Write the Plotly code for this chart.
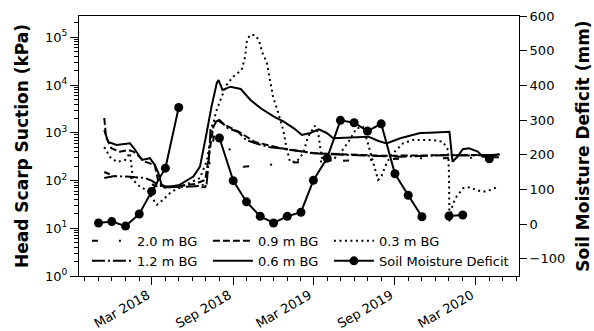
import plotly.graph_objects as go

# ---------------- data ----------------
# Suction at 2.0 m below ground (kPa)
d20_dates = ["2017-11-14", "2017-12-07", "2018-02-14", "2018-03-08", "2018-05-03", "2018-06-30",
             "2018-07-11", "2018-07-20", "2018-08-07", "2018-09-24", "2018-11-16", "2019-01-07",
             "2019-03-01", "2019-06-19", "2019-10-06", "2020-02-03", "2020-04-24"]
d20_vals = [151, 124, 103, 77, 70, 73, 269, 898, 706, 195, 211, 238, 248, 269, 292, 296, 309]

# Suction at 1.2 m below ground (kPa)
d12_dates = ["2017-11-14", "2017-12-07", "2018-01-11", "2018-02-14", "2018-03-02", "2018-03-19",
             "2018-05-03", "2018-06-18", "2018-07-03", "2018-07-08", "2018-07-12", "2018-07-21",
             "2018-08-01", "2018-08-20", "2018-09-12", "2018-09-30", "2018-10-27", "2018-11-23",
             "2018-12-16", "2019-03-01", "2019-05-16", "2019-07-31", "2019-09-13", "2020-01-02",
             "2020-02-15", "2020-04-24"]
d12_vals = [113, 124, 120, 113, 98, 77, 73, 77, 85, 269, 1265, 1680, 1850, 1240, 1054, 706, 580,
            497, 473, 372, 343, 327, 315, 343, 335, 343]

# Suction at 0.9 m below ground (kPa)
d09_dates = ["2017-11-14", "2017-11-18", "2017-11-30", "2017-12-19", "2018-01-07", "2018-01-19",
             "2018-02-14", "2018-03-08", "2018-03-16", "2018-03-31", "2018-05-03", "2018-06-07",
             "2018-06-30", "2018-07-11", "2018-07-18", "2018-07-27", "2018-08-14", "2018-09-18",
             "2018-10-20", "2018-12-16", "2019-03-01", "2019-07-31", "2020-01-02", "2020-04-24"]
d09_vals = [2040, 816, 473, 402, 436, 402, 248, 211, 94, 70, 77, 85, 103, 436, 1321, 1850, 1455,
            990, 640, 480, 375, 330, 345, 345]

# Suction at 0.6 m below ground (kPa)
d06_dates = ["2017-11-14", "2017-11-23", "2017-12-12", "2018-01-11", "2018-01-23", "2018-02-07",
             "2018-02-25", "2018-03-08", "2018-03-16", "2018-03-23", "2018-04-03", "2018-05-03",
             "2018-06-03", "2018-06-18", "2018-07-03", "2018-07-14", "2018-07-26", "2018-07-30",
             "2018-08-08", "2018-08-26", "2018-09-18", "2018-10-10", "2018-11-02", "2018-12-02",
             "2018-12-24", "2019-01-16", "2019-02-03", "2019-02-22", "2019-03-13", "2019-03-31",
             "2019-04-15", "2019-05-23", "2019-07-03", "2019-07-26", "2019-08-13", "2019-09-13",
             "2019-10-28", "2019-11-19", "2019-12-10", "2020-01-02", "2020-01-09", "2020-01-20",
             "2020-02-01", "2020-02-15", "2020-03-06", "2020-03-17", "2020-04-01", "2020-04-24"]
d06_vals = [1140, 640, 555, 600, 436, 269, 293, 211, 144, 83, 72, 81, 121, 195, 990, 3520, 11040,
            12740, 7870, 9230, 8260, 4860, 3260, 2170, 1710, 1240, 898, 990, 1183, 990, 766, 804,
            828, 673, 600, 766, 990, 1004, 1040, 1054, 248, 315, 451, 473, 402, 315, 315, 360]

# Suction at 0.3 m below ground (kPa)
d03_dates = ["2017-11-14", "2017-11-27", "2017-12-13", "2017-12-31", "2018-01-11", "2018-01-18",
             "2018-02-03", "2018-02-19", "2018-03-02", "2018-03-13", "2018-03-26", "2018-04-12",
             "2018-05-03", "2018-05-26", "2018-06-18", "2018-07-04", "2018-07-15", "2018-07-24",
             "2018-08-06", "2018-08-17", "2018-09-01", "2018-09-20", "2018-09-28", "2018-10-02",
             "2018-10-09", "2018-10-20", "2018-10-29", "2018-11-05", "2018-11-16", "2018-11-23",
             "2018-11-30", "2018-12-11", "2018-12-23", "2018-12-30", "2019-01-07", "2019-01-22",
             "2019-02-06", "2019-02-17", "2019-03-04", "2019-03-12", "2019-03-19", "2019-03-27",
             "2019-04-14", "2019-05-03", "2019-05-22", "2019-06-06", "2019-06-21", "2019-07-02",
             "2019-07-14", "2019-07-25", "2019-08-01", "2019-08-13", "2019-08-24", "2019-09-04",
             "2019-09-19", "2019-10-11", "2019-11-26", "2019-12-18", "2019-12-30", "2020-01-01",
             "2020-01-02", "2020-01-09", "2020-01-18", "2020-02-02", "2020-02-17", "2020-03-03",
             "2020-03-18", "2020-04-02", "2020-04-21"]
d03_vals = [504, 311, 244, 269, 377, 103, 73, 63, 43, 31, 39, 55, 73, 89, 113, 269, 1143, 2720,
            5700, 10000, 14960, 20650, 39240, 87800, 111700, 111700, 87800, 49900, 28960, 12740,
            5620, 2720, 1143, 511, 248, 248, 372, 828, 1400, 990, 315, 244, 269, 402, 706, 1240,
            1321, 600, 229, 103, 120, 229, 343, 436, 600, 706, 706, 648, 436, 141, 13.7, 31, 46,
            69, 72, 63, 58, 63, 74]

# Soil moisture deficit (mm), monthly; None = no data
smd_dates = ["2017-11-01", "2017-12-01", "2018-01-01", "2018-02-01", "2018-03-01", "2018-04-01",
             "2018-05-01", "2018-06-01", "2018-07-01", "2018-08-01", "2018-09-01", "2018-10-01",
             "2018-11-01", "2018-12-01", "2019-01-01", "2019-02-01", "2019-03-01", "2019-04-01",
             "2019-05-01", "2019-06-01", "2019-07-01", "2019-08-01", "2019-09-01", "2019-10-01",
             "2019-11-01", "2019-12-01", "2020-01-01", "2020-02-01", "2020-03-01", "2020-04-01"]
smd_vals = [3, 7, -6, 29, 94, 161, 336, None, None, 248, 125, 64, 22, 3, 22, 34, 126, 190, 299,
            292, 268, 289, 145, 83, 21, None, 23, 26, None, 188]

left_tick_vals = [1, 10, 100, 1000, 10000, 100000]
left_tick_text = ["10<sup>0</sup>", "10<sup>1</sup>", "10<sup>2</sup>", "10<sup>3</sup>",
                  "10<sup>4</sup>", "10<sup>5</sup>"]
right_tick_vals = [-100, 0, 100, 200, 300, 400, 500, 600]

# ---------------- figure ----------------
FONT = "DejaVu Sans"
BLACK = "#000000"
LW = 2

fig = go.Figure()

fig.add_trace(go.Scatter(x=d20_dates, y=d20_vals, mode="lines", name="2.0 m BG",
                         line=dict(color=BLACK, width=LW, dash="6px,21px,2px,21px"),
                         legend="legend"))
fig.add_trace(go.Scatter(x=d12_dates, y=d12_vals, mode="lines", name="1.2 m BG",
                         line=dict(color=BLACK, width=LW, dash="13px,3px,2px,3px"),
                         legend="legend2"))
fig.add_trace(go.Scatter(x=d09_dates, y=d09_vals, mode="lines", name="0.9 m BG",
                         line=dict(color=BLACK, width=LW, dash="7px,3px"),
                         legend="legend"))
fig.add_trace(go.Scatter(x=d06_dates, y=d06_vals, mode="lines", name="0.6 m BG",
                         line=dict(color=BLACK, width=LW), legend="legend2"))
fig.add_trace(go.Scatter(x=d03_dates, y=d03_vals, mode="lines", name="0.3 m BG",
                         line=dict(color=BLACK, width=LW, dash="2px,3.5px"),
                         legend="legend"))
fig.add_trace(go.Scatter(x=smd_dates, y=smd_vals, mode="lines+markers",
                         name="Soil Moisture Deficit", yaxis="y2",
                         line=dict(color=BLACK, width=LW),
                         marker=dict(color=BLACK, size=9, symbol="circle"),
                         legend="legend3"))

minor_log = [k * 10 ** n for n in range(0, 6) for k in range(2, 10)]

legend_common = dict(orientation="h", xanchor="left", yanchor="middle",
                     bgcolor="rgba(0,0,0,0)", borderwidth=0,
                     font=dict(family=FONT, size=13, color=BLACK),
                     entrywidth=66, entrywidthmode="pixels", itemwidth=40,
                     tracegroupgap=0)
legend3_opts = dict(orientation="h", xanchor="left", yanchor="middle",
                    bgcolor="rgba(0,0,0,0)", borderwidth=0,
                    font=dict(family=FONT, size=13, color=BLACK),
                    itemwidth=40, tracegroupgap=0)

LEG_X = 0.018
COL_STEP = 121 / 440

fig.update_layout(
    width=594, height=331,
    margin=dict(l=79, r=75, t=16, b=55, autoexpand=False),
    paper_bgcolor="white", plot_bgcolor="white",
    font=dict(family=FONT, size=13, color=BLACK),
    showlegend=True,
    legend=dict(x=LEG_X, y=0.135, **legend_common),
    legend2=dict(x=LEG_X, y=0.058, **legend_common),
    legend3=dict(x=LEG_X + 2 * COL_STEP, y=0.058, **legend3_opts),
    xaxis=dict(
        type="date", range=["2017-09-18", "2020-06-07"], automargin=False,
        tick0="2018-03-01", dtick="M6", tickformat="%b %Y", tickangle=-30,
        ticklabelshift=-4, ticklabelstandoff=-2,
        ticks="outside", ticklen=8, tickwidth=1, tickcolor=BLACK,
        minor=dict(dtick="M1", tick0="2017-10-01", ticks="outside", ticklen=4,
                   tickwidth=1, tickcolor=BLACK, showgrid=False),
        showgrid=False, zeroline=False,
        showline=True, linecolor=BLACK, linewidth=1, mirror=True,
        tickfont=dict(family=FONT, size=13, color=BLACK),
    ),
    yaxis=dict(
        type="log", range=[0, 5.446], automargin=False,
        tickvals=left_tick_vals, ticktext=left_tick_text,
        ticks="outside", ticklen=8, tickwidth=1, tickcolor=BLACK,
        minor=dict(tickvals=minor_log, ticks="outside", ticklen=4, tickwidth=1,
                   tickcolor=BLACK, showgrid=False),
        showgrid=False, zeroline=False,
        showline=True, linecolor=BLACK, linewidth=1, mirror=False,
        tickfont=dict(family=FONT, size=13, color=BLACK),
        title=dict(text="<b>Head Scarp Suction (kPa)</b>", standoff=12,
                   font=dict(family=FONT, size=17, color=BLACK)),
    ),
    yaxis2=dict(
        overlaying="y", side="right", range=[-150, 600], automargin=False,
        tickvals=right_tick_vals,
        ticks="outside", ticklen=7, tickwidth=1, tickcolor=BLACK,
        showgrid=False, zeroline=False,
        showline=True, linecolor=BLACK, linewidth=1,
        tickfont=dict(family=FONT, size=13, color=BLACK),
        title=dict(text="<b>Soil Moisture Deficit (mm)</b>", standoff=12,
                   font=dict(family=FONT, size=17, color=BLACK)),
    ),
)

fig.write_html("out.html")
